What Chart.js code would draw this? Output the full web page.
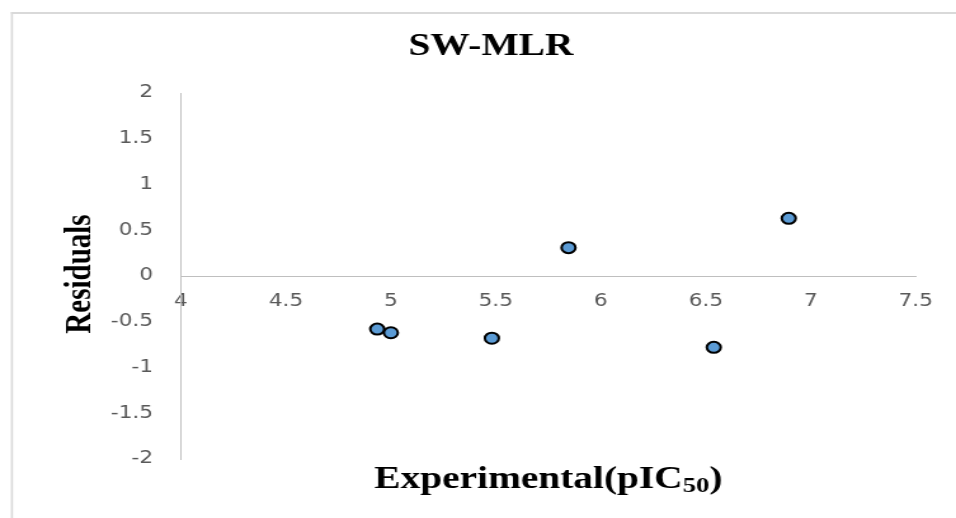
<!DOCTYPE html>
<html><head><meta charset="utf-8">
<script src="https://cdn.jsdelivr.net/npm/chart.js@4.4.1/dist/chart.umd.min.js"></script>
<style>
html,body{margin:0;padding:0;background:#fff;overflow:hidden;width:956px;height:518px}
#wrap{position:absolute;left:0;top:0;width:753px;height:518px;transform:scaleX(1.26959);transform-origin:0 0}
canvas{display:block}
</style></head><body>
<div id="wrap"><canvas id="c" width="753" height="518"></canvas></div>
<script>
const chartTitle = 'SW-MLR';
const xTitleMain = 'Experimental(pIC';
const xTitleSub = '50';
const xTitleEnd = ')';
const yTitle = 'Residuals';
const experimental = [4.935, 5.0, 5.481, 5.846, 6.538, 6.895];
const residuals = [-0.58, -0.62, -0.68, 0.31, -0.78, 0.63];
const xTicks = [4, 4.5, 5, 5.5, 6, 6.5, 7, 7.5];
const yTicks = [-2, -1.5, -1, -0.5, 0, 0.5, 1, 1.5, 2];

const points = experimental.map((x, i) => ({x: x, y: residuals[i]}));
const tickFont = {family: '"DejaVu Sans", sans-serif', size: 17, lineHeight: 1};
const tickColor = '#595959';
const axisColor = '#bfbfbf';
const serif = '"Liberation Serif", "Times New Roman", serif';

const decor = {
  id: 'decor',
  beforeDraw(chart) {
    const ctx = chart.ctx;
    ctx.save();
    ctx.fillStyle = '#ffffff';
    ctx.fillRect(0, 0, chart.width, chart.height);
    ctx.strokeStyle = '#d9d9d9';
    ctx.lineWidth = 2;
    ctx.beginPath(); ctx.moveTo(8.6, 13); ctx.lineTo(chart.width + 5, 13); ctx.stroke();
    ctx.lineWidth = 1.6;
    ctx.beginPath(); ctx.moveTo(9.4, 12); ctx.lineTo(9.4, chart.height + 5); ctx.stroke();
    ctx.restore();
  },
  afterDraw(chart) {
    const ctx = chart.ctx;
    const area = chart.chartArea;
    ctx.save();
    ctx.fillStyle = '#000';
    // y title
    ctx.save();
    ctx.translate(70.9, 274);
    ctx.rotate(-Math.PI / 2);
    ctx.font = 'bold 29px ' + serif;
    ctx.textAlign = 'center';
    ctx.textBaseline = 'alphabetic';
    ctx.fillText(yTitle, 0, 0);
    ctx.restore();
    // x title with subscript
    const fMain = 'bold 31px ' + serif;
    const fSub = 'bold 21px ' + serif;
    ctx.font = fMain;
    const w1 = ctx.measureText(xTitleMain).width;
    const w3 = ctx.measureText(xTitleEnd).width;
    ctx.font = fSub;
    const w2 = ctx.measureText(xTitleSub).width;
    const total = w1 + w2 + w3;
    let x = (area.left + area.right) / 2 - total / 2;
    const base = 488;
    ctx.textAlign = 'left';
    ctx.textBaseline = 'alphabetic';
    ctx.font = fMain; ctx.fillText(xTitleMain, x, base); x += w1;
    ctx.font = fSub; ctx.fillText(xTitleSub, x, base + 4); x += w2;
    ctx.font = fMain; ctx.fillText(xTitleEnd, x, base);
    ctx.restore();
  }
};

new Chart(document.getElementById('c'), {
  type: 'scatter',
  data: {
    datasets: [{
      label: 'Residuals',
      data: points,
      backgroundColor: '#5B9BD5',
      borderColor: '#000000',
      borderWidth: 2,
      pointRadius: 5.5,
      pointHoverRadius: 5.5
    }]
  },
  options: {
    responsive: false,
    animation: false,
    devicePixelRatio: 1,
    layout: {padding: {left: 52, right: 31.7, top: 0, bottom: 59}},
    plugins: {
      legend: {display: false},
      tooltip: {enabled: false},
      title: {
        display: true,
        text: chartTitle,
        color: '#000',
        font: {family: serif, size: 31, weight: 'bold', lineHeight: 1.2},
        padding: {top: 28.4, bottom: 27.4}
      }
    },
    scales: {
      x: {
        type: 'linear',
        position: {y: 0},
        min: xTicks[0],
        max: xTicks[xTicks.length - 1],
        afterBuildTicks: s => { s.ticks = xTicks.map(v => ({value: v})); },
        ticks: {font: tickFont, color: tickColor, padding: 17.5, callback: v => String(v), maxRotation: 0, autoSkip: false},
        grid: {display: false, drawTicks: false},
        border: {display: true, color: axisColor, width: 1}
      },
      y: {
        type: 'linear',
        position: 'left',
        min: yTicks[0],
        max: yTicks[yTicks.length - 1],
        afterBuildTicks: s => { s.ticks = yTicks.map(v => ({value: v})); },
        afterFit: s => { s.width = 90.5; },
        ticks: {font: tickFont, color: tickColor, padding: 22, callback: v => String(v), autoSkip: false},
        grid: {display: false, drawTicks: false},
        border: {display: true, color: axisColor, width: 1}
      }
    }
  },
  plugins: [decor]
});
</script>
</body></html>
